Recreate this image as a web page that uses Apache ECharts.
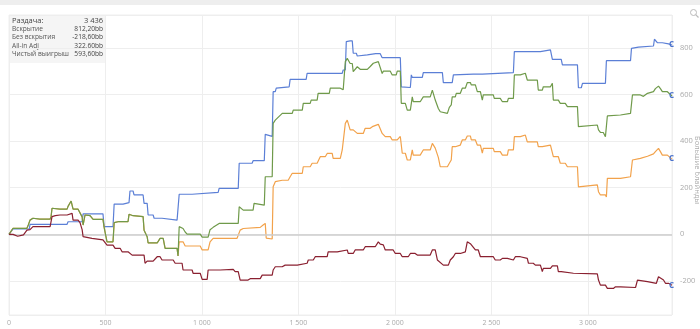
<!DOCTYPE html>
<html>
<head>
<meta charset="utf-8">
<script src="https://cdn.jsdelivr.net/npm/echarts@6/dist/echarts.min.js"></script>
<style>
  html, body { margin: 0; padding: 0; background: #ffffff; }
  #topbar { position: absolute; left: 0; top: 0; width: 700px; height: 5px; background: #eeeeee; }
  #chart { position: absolute; left: 0; top: 0; width: 700px; height: 329px; }
</style>
</head>
<body>
<div id="chart"></div>
<div id="topbar"></div>
<script>
// Cumulative winnings in big blinds by hand number
const xTicks = [0, 500, 1000, 1500, 2000, 2500, 3000];
const yTicks = [-200, 0, 200, 400, 600, 800];
const seriesNames = ['Вскрытие', 'Без вскрытия', 'All-in Adj', 'Чистый выигрыш'];

// showdown winnings
const showdown = [[0,0],[5,4],[21,23],[105,23],[109,43],[301,43],[306,54],[379,54],[384,88],[487,88],[493,33],[539,33],[545,130],[591,130],[596,136],[622,136],[627,186],[643,186],[648,169],[695,169],[700,133],[716,133],[721,83],[747,83],[752,69],[793,69],[799,61],[871,61],[882,172],[949,172],[954,180],[1084,180],[1089,197],[1188,197],[1193,305],[1260,305],[1265,316],[1323,316],[1328,429],[1333,426],[1364,420],[1369,612],[1380,612],[1385,627],[1390,633],[1452,633],[1457,665],[1540,665],[1545,691],[1727,691],[1732,705],[1743,705],[1748,827],[1758,822],[1768,830],[1779,830],[1784,777],[1800,777],[1805,765],[1857,770],[1900,775],[1924,775],[1934,758],[2028,758],[2033,633],[2080,630],[2085,684],[2090,673],[2142,673],[2147,694],[2246,694],[2251,651],[2297,651],[2303,684],[2406,687],[2453,687],[2458,694],[2614,694],[2619,784],[2754,784],[2758,791],[2806,791],[2816,751],[2862,751],[2868,727],[2946,727],[2951,629],[2966,629],[2972,648],[3091,648],[3096,745],[3221,745],[3226,798],[3262,803],[3267,808],[3340,808],[3345,837],[3355,835],[3360,822],[3386,822],[3392,817],[3418,817],[3436,812.2]];

// non-showdown winnings
const nonShowdown = [[0,0],[5,4],[21,0],[45,-8],[75,-2],[93,18],[109,20],[124,33],[213,33],[218,28],[223,76],[240,80],[264,83],[301,83],[306,90],[327,90],[332,61],[358,61],[368,50],[379,20],[384,-10],[394,-12],[430,-17],[436,-24],[487,-24],[508,-46],[539,-46],[550,-60],[576,-60],[586,-75],[617,-75],[638,-89],[700,-89],[705,-124],[716,-115],[747,-115],[768,-96],[783,-96],[793,-110],[851,-110],[861,-124],[897,-124],[902,-153],[949,-153],[954,-167],[991,-167],[1001,-193],[1027,-193],[1032,-153],[1094,-153],[1162,-150],[1172,-160],[1188,-160],[1198,-196],[1239,-196],[1250,-190],[1302,-190],[1312,-175],[1364,-175],[1369,-153],[1380,-139],[1416,-139],[1431,-132],[1494,-132],[1499,-124],[1545,-124],[1551,-110],[1577,-110],[1587,-96],[1649,-96],[1654,-75],[1701,-75],[1706,-67],[1753,-67],[1758,-82],[1784,-82],[1794,-67],[1836,-67],[1846,-53],[1898,-53],[1914,-32],[1924,-42],[1940,-45],[1950,-67],[1991,-67],[2002,-82],[2028,-82],[2038,-96],[2069,-96],[2080,-82],[2105,-82],[2116,-89],[2183,-89],[2194,-67],[2209,-67],[2220,-110],[2251,-132],[2277,-132],[2287,-110],[2303,-96],[2313,-82],[2339,-82],[2349,-75],[2365,-75],[2375,-32],[2391,-40],[2401,-45],[2417,-67],[2432,-67],[2443,-96],[2510,-96],[2520,-110],[2546,-110],[2557,-103],[2583,-103],[2588,-110],[2614,-110],[2624,-96],[2650,-96],[2660,-103],[2686,-103],[2692,-124],[2717,-124],[2728,-132],[2754,-132],[2764,-160],[2769,-146],[2806,-146],[2816,-135],[2842,-135],[2847,-160],[2862,-160],[2868,-167],[2925,-167],[2935,-170],[3049,-170],[3055,-196],[3065,-218],[3091,-218],[3101,-232],[3132,-232],[3143,-225],[3169,-225],[3179,-228],[3247,-228],[3257,-196],[3262,-203],[3309,-203],[3314,-210],[3355,-210],[3366,-182],[3376,-190],[3392,-196],[3402,-210],[3418,-210],[3436,-218.6]];

// all-in adjusted winnings
const allInAdj = [[0,0],[5,4],[21,26],[93,26],[100,40],[109,61],[124,69],[160,65],[213,65],[218,76],[223,112],[264,108],[301,108],[306,120],[322,143],[332,108],[358,108],[368,100],[379,75],[384,40],[394,83],[420,80],[436,64],[487,64],[493,30],[508,-32],[539,-32],[545,50],[570,55],[617,55],[622,86],[643,80],[695,76],[700,18],[716,-10],[721,-37],[768,-37],[783,-17],[799,-17],[809,-60],[871,-60],[876,-93],[882,-32],[902,-32],[913,-50],[991,-50],[1001,-67],[1032,-67],[1042,-32],[1058,-17],[1182,-17],[1188,-25],[1198,18],[1214,25],[1302,30],[1317,40],[1328,47],[1333,-16],[1364,-20],[1369,204],[1380,226],[1416,232],[1447,232],[1457,247],[1468,262],[1520,262],[1525,290],[1561,290],[1571,305],[1597,305],[1613,333],[1639,333],[1649,347],[1675,347],[1680,326],[1717,326],[1727,362],[1737,362],[1743,476],[1753,490],[1768,448],[1784,448],[1805,433],[1836,433],[1846,455],[1872,455],[1883,462],[1914,472],[1934,433],[1950,419],[1976,419],[1986,405],[2012,405],[2028,420],[2038,348],[2054,348],[2064,319],[2080,319],[2090,362],[2095,340],[2131,340],[2147,362],[2183,362],[2194,390],[2209,370],[2225,330],[2235,290],[2272,290],[2282,305],[2292,319],[2297,376],[2313,376],[2318,383],[2339,383],[2349,405],[2365,405],[2375,422],[2391,422],[2396,405],[2417,405],[2427,383],[2443,383],[2453,348],[2458,369],[2510,369],[2515,355],[2546,355],[2557,340],[2583,340],[2588,362],[2614,362],[2619,419],[2650,419],[2660,426],[2676,426],[2686,397],[2738,397],[2743,376],[2764,376],[2769,383],[2806,383],[2816,390],[2821,333],[2847,333],[2857,305],[2883,305],[2894,290],[2946,290],[2951,204],[2961,212],[3049,212],[3055,183],[3065,169],[3091,169],[3096,160],[3101,240],[3169,240],[3179,247],[3221,247],[3231,319],[3272,326],[3309,335],[3340,345],[3350,355],[3366,369],[3376,355],[3386,340],[3412,340],[3436,322.6]];

// net winnings
const netWon = [[0,0],[5,4],[21,26],[93,26],[100,40],[109,61],[124,69],[160,65],[213,65],[218,76],[223,112],[264,108],[301,108],[306,120],[322,143],[332,108],[358,108],[368,100],[379,75],[384,40],[394,83],[420,80],[436,64],[487,64],[493,30],[508,-32],[539,-32],[545,50],[570,55],[617,55],[622,86],[643,80],[695,76],[700,18],[716,-10],[721,-37],[768,-37],[783,-17],[799,-17],[809,-60],[871,-60],[876,-93],[882,33],[902,25],[913,10],[923,1],[991,1],[1001,-12],[1032,-12],[1042,20],[1058,30],[1089,47],[1188,47],[1193,118],[1214,104],[1265,104],[1270,133],[1323,125],[1328,247],[1364,247],[1369,476],[1380,490],[1416,519],[1468,519],[1473,533],[1520,533],[1525,562],[1561,562],[1566,576],[1597,576],[1602,605],[1660,605],[1665,627],[1717,627],[1732,620],[1743,741],[1753,755],[1768,733],[1779,733],[1784,698],[1794,698],[1805,719],[1820,708],[1857,708],[1872,720],[1888,734],[1914,741],[1934,690],[1940,700],[1976,700],[1986,684],[2007,684],[2012,700],[2028,700],[2033,562],[2054,562],[2064,533],[2080,533],[2090,590],[2095,569],[2131,569],[2147,590],[2183,590],[2194,619],[2209,576],[2225,540],[2235,526],[2272,519],[2282,545],[2292,555],[2297,590],[2313,590],[2318,605],[2339,605],[2349,627],[2365,627],[2375,651],[2391,651],[2396,641],[2417,641],[2427,612],[2443,612],[2453,576],[2458,598],[2510,598],[2515,583],[2546,583],[2557,569],[2583,569],[2588,583],[2614,583],[2619,684],[2650,684],[2660,691],[2676,691],[2686,662],[2738,662],[2743,619],[2764,619],[2769,633],[2806,633],[2816,648],[2821,576],[2847,576],[2857,562],[2883,562],[2894,548],[2946,548],[2951,462],[2961,469],[3049,469],[3055,448],[3065,437],[3080,437],[3091,419],[3096,419],[3101,508],[3169,512],[3179,519],[3221,519],[3231,598],[3272,598],[3288,592],[3309,605],[3340,612],[3350,625],[3366,636],[3376,625],[3386,612],[3412,612],[3436,593.6]];

const lineColors = ['#5b7fd6', '#8a2030', '#f2a24b', '#6f9a4a'];

function groupThousands(v) {
  return String(v).replace(/\B(?=(\d{3})+(?!\d))/g, ' ');
}
function bb(v) {
  return v.toFixed(2).replace('.', ',') + 'bb';
}
const last = arr => arr[arr.length - 1];

const chart = echarts.init(document.getElementById('chart'), null, { renderer: 'canvas' });

const seriesData = [showdown, nonShowdown, allInAdj, netWon];
// draw order: net drawn over all-in so their shared early stretch shows green
const drawOrder = [0, 2, 3, 1];

const series = drawOrder.map((i, k) => ({
  name: seriesNames[i],
  type: 'line',
  data: seriesData[i],
  showSymbol: false,
  symbol: 'none',
  lineStyle: { color: lineColors[i], width: 1.2 },
  itemStyle: { color: lineColors[i] },
  animation: false,
  z: 3 + k,
  endLabel: {
    show: true,
    formatter: 'C',
    color: '#4a72cc',
    fontSize: 8,
    fontWeight: 'bold',
    fontFamily: 'Open Sans',
    distance: -3
  }
}));

// zero reference line
series.push({
  type: 'line',
  data: [],
  silent: true,
  markLine: {
    silent: true,
    symbol: 'none',
    label: { show: false },
    lineStyle: { color: '#cccccc', width: 1.5, type: 'solid' },
    data: [{ yAxis: 0 }],
    animation: false
  },
  z: 2
});

const tipRows = [
  [seriesNames[0], bb(last(showdown)[1])],
  [seriesNames[1], bb(last(nonShowdown)[1])],
  [seriesNames[2], bb(last(allInAdj)[1])],
  [seriesNames[3], bb(last(netWon)[1])]
];

const tipChildren = [
  { type: 'rect', shape: { x: 0, y: 0, width: 97, height: 48 }, style: { fill: 'rgba(244,244,244,0.92)' } },
  { type: 'text', x: 3, y: 5.8, style: { text: 'Раздача:', fill: '#444', font: '7.5px "Open Sans"', textVerticalAlign: 'middle' } },
  { type: 'text', x: 94, y: 5.8, style: { text: groupThousands(last(showdown)[0]), fill: '#444', font: '7.5px "Open Sans"', textAlign: 'right', textVerticalAlign: 'middle' } }
];
tipRows.forEach((r, i) => {
  const y = 14.5 + i * 8.1;
  tipChildren.push({ type: 'text', x: 3, y: y, style: { text: r[0], fill: '#555', font: '6.6px "Open Sans"', textVerticalAlign: 'middle' } });
  tipChildren.push({ type: 'text', x: 94, y: y, style: { text: r[1], fill: '#444', font: '6.6px "Open Sans"', textAlign: 'right', textVerticalAlign: 'middle' } });
});

chart.setOption({
  animation: false,
  backgroundColor: '#ffffff',
  grid: {
    left: 9, right: 28, top: 15, bottom: 14,
    containLabel: false,
    outerBoundsMode: 'none',
    show: true, borderColor: '#eeeeee', borderWidth: 1, backgroundColor: 'transparent'
  },
  xAxis: {
    type: 'value',
    min: xTicks[0],
    max: last(showdown)[0],
    interval: xTicks[1] - xTicks[0],
    axisLine: { show: false },
    axisTick: { show: false },
    splitLine: { show: true, lineStyle: { color: '#eeeeee', width: 1 } },
    axisLabel: {
      color: '#aaaaaa', fontSize: 7, fontFamily: 'Open Sans', margin: 4,
      showMaxLabel: false,
      formatter: v => xTicks.includes(v) ? groupThousands(v) : ''
    }
  },
  yAxis: {
    type: 'value',
    position: 'right',
    min: -346,
    max: 941,
    splitNumber: 6,
    axisLine: { show: false },
    axisTick: { show: false },
    splitLine: { show: true, lineStyle: { color: '#eeeeee', width: 1 } },
    axisLabel: {
      color: '#aaaaaa', fontSize: 7.5, fontFamily: 'Open Sans', margin: 8,
      showMinLabel: false, showMaxLabel: false,
      formatter: v => yTicks.includes(v) ? String(v) : ''
    },
    name: 'Большие блайнды',
    nameLocation: 'middle',
    nameRotate: -90,
    nameGap: 21,
    nameMoveOverlap: false,
    nameTextStyle: { color: '#aaaaaa', fontSize: 7.5, fontFamily: 'Open Sans', padding: [0, 0, 0, 10] }
  },
  series: series,
  graphic: [
    { type: 'group', left: 9, top: 15, children: tipChildren },
    {
      type: 'group', left: 688, top: 7,
      children: [
        { type: 'circle', shape: { cx: 3, cy: 3, r: 3 }, style: { fill: 'none', stroke: '#bbbbbb', lineWidth: 1 } },
        { type: 'line', shape: { x1: 5.2, y1: 5.2, x2: 8, y2: 8 }, style: { stroke: '#bbbbbb', lineWidth: 1.2 } }
      ]
    }
  ]
});
</script>
</body>
</html>
